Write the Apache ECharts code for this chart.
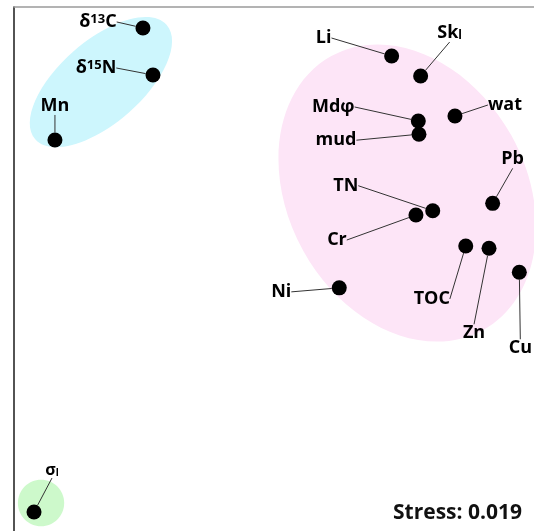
<!DOCTYPE html>
<html>
<head>
<meta charset="utf-8">
<script src="https://cdn.jsdelivr.net/npm/echarts@6/dist/echarts.min.js"></script>
<style>
  html, body { margin: 0; padding: 0; background: #fff; }
  #chart { width: 534px; height: 531px; }
</style>
</head>
<body>
<div id="chart"></div>
<script>
// nMDS ordination of sediment variables (two dimensions)
const variables = ['δ13C', 'δ15N', 'Mn', 'Li', 'Skl', 'wat', 'Mdφ', 'mud', 'Pb', 'TN', 'Cr', 'TOC', 'Zn', 'Cu', 'Ni', 'σl'];
const dim1 = [-1.008, -0.931, -1.685, 0.905, 1.128, 1.392, 1.110, 1.115, 1.682, 1.221, 1.092, 1.475, 1.654, 1.887, 0.502, -1.846];
const dim2 = [ 1.840,  1.481,  0.985, 1.626, 1.473, 1.168, 1.130, 1.029, 0.501, 0.445, 0.412, 0.176, 0.158, -0.025, -0.144, -1.855];
const stressValue = 0.019;

// rich-text versions of the variable names (super/subscripts)
const labelRich = {
  'δ13C': '{b|δ}{sup|13}{b|C}',
  'δ15N': '{b|δ}{sup|15}{b|N}',
  'Skl': '{b|Sk}{sub|l}',
  'σl': '{s|σ}{ss|l}'
};

// label placement relative to each point (px)
const labelOffsets = [
  [-45, -6], [-57, -7], [0, -34], [-68, -18], [29, -43], [50, -11], [-85, -14], [-83, 6],
  [20, -44], [-87, -25], [-79, 25], [-34, 53], [-15, 85], [1, 76], [-58, 4], [18, -42]
];

// groupings drawn as shaded ellipses (centre, semi-axes in ordination units, tilt in degrees)
const groups = [
  { name: 'isotopes', center: [-1.331, 1.427], rx: 0.670, ry: 0.315, tilt: 41, color: '#cdf6fd' },
  { name: 'sediment', center: [1.025, 0.580], rx: 0.915, ry: 1.195, tilt: 29, color: '#fde5f7' },
  { name: 'sorting',  center: [-1.792, -1.786], rx: 0.178, ry: 0.178, tilt: 0, color: '#cdf9cb' }
];

const FONT = 'Open Sans';
const INK = '#000';
const chart = echarts.init(document.getElementById('chart'), null, { renderer: 'canvas' });

chart.setOption({
  animation: false,
  backgroundColor: '#ffffff',
  title: {
    text: 'Stress: ' + stressValue.toFixed(3),
    right: 7,
    bottom: 2,
    textStyle: { fontFamily: FONT, fontSize: 21, fontWeight: 'bold', color: '#111' }
  },
  grid: { left: 14, right: 0, top: 7, bottom: 0 },
  xAxis: {
    type: 'value', min: -2, max: 2, position: 'top',
    axisLine: { show: true, onZero: false, lineStyle: { color: '#9a9a9a', width: 1.5 } },
    axisTick: { show: false }, axisLabel: { show: false }, splitLine: { show: false }
  },
  yAxis: {
    type: 'value', min: -2, max: 2,
    axisLine: { show: true, onZero: false, lineStyle: { color: '#1a1a1a', width: 1.5 } },
    axisTick: { show: false }, axisLabel: { show: false }, splitLine: { show: false }
  },
  series: [
    {
      type: 'custom',
      silent: true,
      z: 1,
      clip: false,
      data: groups.map(g => g.center),
      renderItem: function (params, api) {
        const g = groups[params.dataIndex];
        const c = api.coord(g.center);
        const s = api.size([g.rx, g.ry]);
        return {
          type: 'ellipse',
          x: c[0], y: c[1],
          rotation: g.tilt * Math.PI / 180,
          shape: { cx: 0, cy: 0, rx: s[0], ry: s[1] },
          style: { fill: g.color }
        };
      }
    },
    {
      type: 'scatter',
      z: 3,
      silent: true,
      symbol: 'circle',
      symbolSize: 15,
      itemStyle: { color: '#000', opacity: 1 },
      data: variables.map((v, i) => ({ name: v, value: [dim1[i], dim2[i]] })),
      label: {
        show: true,
        position: 'inside',
        formatter: p => labelRich[p.name] || '{b|' + p.name + '}',
        rich: {
          b: { fontFamily: FONT, fontSize: 18, fontWeight: 'bold', color: INK },
          sup: { fontFamily: FONT, fontSize: 13, fontWeight: 'bold', color: INK, verticalAlign: 'top' },
          sub: { fontFamily: FONT, fontSize: 12, fontWeight: 'bold', color: INK, verticalAlign: 'bottom' },
          s: { fontFamily: FONT, fontSize: 16, fontWeight: 'bold', color: INK },
          ss: { fontFamily: FONT, fontSize: 10, fontWeight: 'bold', color: INK, verticalAlign: 'bottom' }
        }
      },
      labelLine: {
        show: true,
        length2: 0,
        lineStyle: { color: '#333', width: 1, opacity: 1 }
      },
      labelLayout: function (params) {
        const o = labelOffsets[params.dataIndex];
        return { dx: o[0], dy: o[1] };
      }
    }
  ]
});
</script>
</body>
</html>
